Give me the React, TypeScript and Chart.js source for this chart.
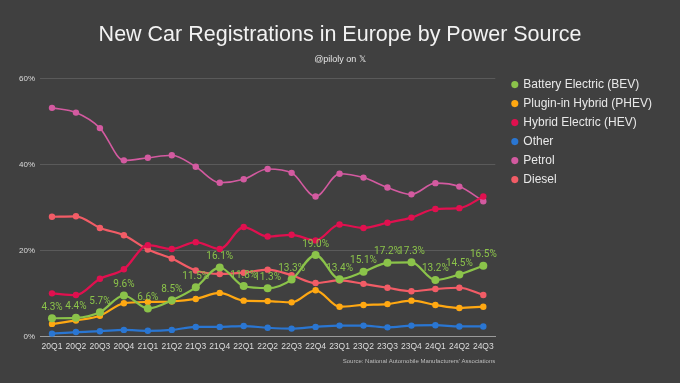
import React, { useEffect, useRef } from "react";
import { Chart, registerables } from "chart.js";

Chart.register(...registerables);

const quarters = ["20Q1","20Q2","20Q3","20Q4","21Q1","21Q2","21Q3","21Q4","22Q1","22Q2","22Q3","22Q4","23Q1","23Q2","23Q3","23Q4","24Q1","24Q2","24Q3"];
const bev = [4.3,4.4,5.7,9.6,6.6,8.5,11.5,16.1,11.8,11.3,13.3,19.0,13.4,15.1,17.2,17.3,13.2,14.5,16.5];
const phev = [3.0,3.8,4.9,7.8,8.1,8.2,8.8,10.2,8.4,8.3,8.0,10.8,7.0,7.4,7.6,8.4,7.4,6.7,7.0];
const hev = [10.1,9.7,13.5,15.7,21.3,20.4,22.0,20.4,25.5,23.3,23.7,22.4,26.1,25.3,26.5,27.7,29.7,29.9,32.6];
const other = [0.7,1.1,1.3,1.6,1.4,1.6,2.3,2.3,2.5,2.1,1.9,2.3,2.6,2.6,2.2,2.6,2.7,2.4,2.4];
const petrol = [53.2,52.1,48.5,41.0,41.6,42.2,39.5,35.8,36.6,39.0,38.1,32.6,37.9,37.0,34.7,33.1,35.7,34.9,31.5];
const diesel = [27.9,28.0,25.3,23.6,20.3,18.2,15.4,14.6,14.9,15.6,14.3,12.5,13.1,12.3,11.4,10.6,11.1,11.4,9.7];
const yTicks = [0, 20, 40, 60];

const BG = "#404040";
const FONT = "'Liberation Sans', Arial, sans-serif";

const bevLabels = {
  id: "bevLabels",
  afterDatasetsDraw(chart: any) {
    const meta = chart.getDatasetMeta(0);
    const ctx = chart.ctx;
    ctx.save();
    ctx.font = `10px Roboto, ${FONT}`;
    ctx.fillStyle = "#8bc34a";
    ctx.textAlign = "center";
    ctx.textBaseline = "bottom";
    meta.data.forEach((pt: any, i: number) => {
      ctx.fillText(bev[i].toFixed(1) + "%", pt.x, pt.y - 6);
    });
    ctx.restore();
  },
};

const sourcePlugin = {
  id: "sourceText",
  afterDraw(chart: any) {
    const ctx = chart.ctx;
    ctx.save();
    ctx.font = `6px ${FONT}`;
    ctx.fillStyle = "#bdbdbd";
    ctx.textAlign = "right";
    ctx.textBaseline = "middle";
    ctx.fillText("Source: National Automobile Manufacturers' Associations", chart.chartArea.right, 361);
    ctx.restore();
  },
};

const layoutShift = {
  id: "layoutShift",
  afterLayout(chart: any) {
    const lg = chart.legend;
    if (lg) {
      lg.left += 10;
      lg.right += 10;
      lg.top -= 7;
      lg.bottom -= 7;
    }
    const boxes = chart.boxes || [];
    boxes.forEach((b: any) => {
      if (b && (b.options && (b.options.text === "New Car Registrations in Europe by Power Source" || b.options.text === "@piloly on 𝕏"))) {
        b.left = 0;
        b.right = chart.width;
      }
    });
  },
};

const bgPlugin = {
  id: "bg",
  beforeDraw(chart: any) {
    const ctx = chart.ctx;
    ctx.save();
    ctx.fillStyle = BG;
    ctx.fillRect(0, 0, chart.width, chart.height);
    ctx.restore();
  },
};

export default function App() {
  const ref = useRef<HTMLCanvasElement>(null);
  useEffect(() => {
    if (!ref.current) return;
    const mk = (label: string, data: number[], color: string, width: number, radius: number) => ({
      label,
      data,
      borderColor: color,
      backgroundColor: color,
      borderWidth: width,
      pointRadius: radius,
      pointHoverRadius: radius,
      pointBorderWidth: 0,
      tension: 0.4,
      cubicInterpolationMode: "monotone" as const,
    });
    const chart = new Chart(ref.current, {
      type: "line",
      data: {
        labels: quarters,
        datasets: [
          mk("Battery Electric (BEV)", bev, "#8bc34a", 2.2, 4),
          mk("Plugin-in Hybrid (PHEV)", phev, "#ffa812", 2.2, 3.2),
          mk("Hybrid Electric (HEV)", hev, "#e0104f", 2.2, 3.2),
          mk("Other", other, "#2a76d2", 2.2, 3.2),
          mk("Petrol", petrol, "#d35aa0", 1.6, 3.2),
          mk("Diesel", diesel, "#f25c66", 2.2, 3.2),
        ],
      },
      options: {
        animation: false,
        responsive: false,
        maintainAspectRatio: false,
        layout: { padding: { left: 14, right: 28, top: 0, bottom: 26 } },
        plugins: {
          title: {
            display: true,
            text: "New Car Registrations in Europe by Power Source",
            color: "#f2f2f2",
            font: { family: FONT, size: 21.5, weight: "normal" },
            padding: { top: 22, bottom: 4 },
          },
          subtitle: {
            display: true,
            text: "@piloly on 𝕏",
            color: "#e6e6e6",
            font: { family: FONT, size: 9 },
            padding: { top: 2, bottom: 14 },
          },
          legend: {
            position: "right",
            align: "start",
            fullSize: false,
            labels: {
              usePointStyle: true,
              pointStyle: "circle",
              boxWidth: 5,
              boxHeight: 5,
              padding: 7,
              color: "#e8e8e8",
              font: { family: FONT, size: 12 },
            },
          },
          tooltip: { enabled: false },
        },
        scales: {
          x: {
            offset: true,
            grid: { display: false, drawTicks: false },
            border: { display: true, color: "#9a9a9a", width: 1 },
            ticks: { color: "#dcdcdc", font: { family: FONT, size: 8.5 }, maxRotation: 0, autoSkip: false, padding: 5 },
          },
          y: {
            min: 0,
            max: 60,
            afterBuildTicks: (axis: any) => {
              axis.ticks = yTicks.map((v) => ({ value: v }));
            },
            grid: { color: "#5a5a5a", lineWidth: 1, drawTicks: false },
            border: { display: false },
            ticks: {
              color: "#dcdcdc",
              font: { family: FONT, size: 8 },
              padding: 5,
              callback: (v: any) => v + "%",
            },
          },
        },
      },
      plugins: [bgPlugin, layoutShift, bevLabels, sourcePlugin],
    });
    return () => chart.destroy();
  }, []);
  return (
    <div style={{ position: "fixed", left: 0, top: 0, width: 680, height: 383, background: BG }}>
      <canvas ref={ref} width={680} height={383} style={{ width: 680, height: 383, display: "block" }} />
    </div>
  );
}
